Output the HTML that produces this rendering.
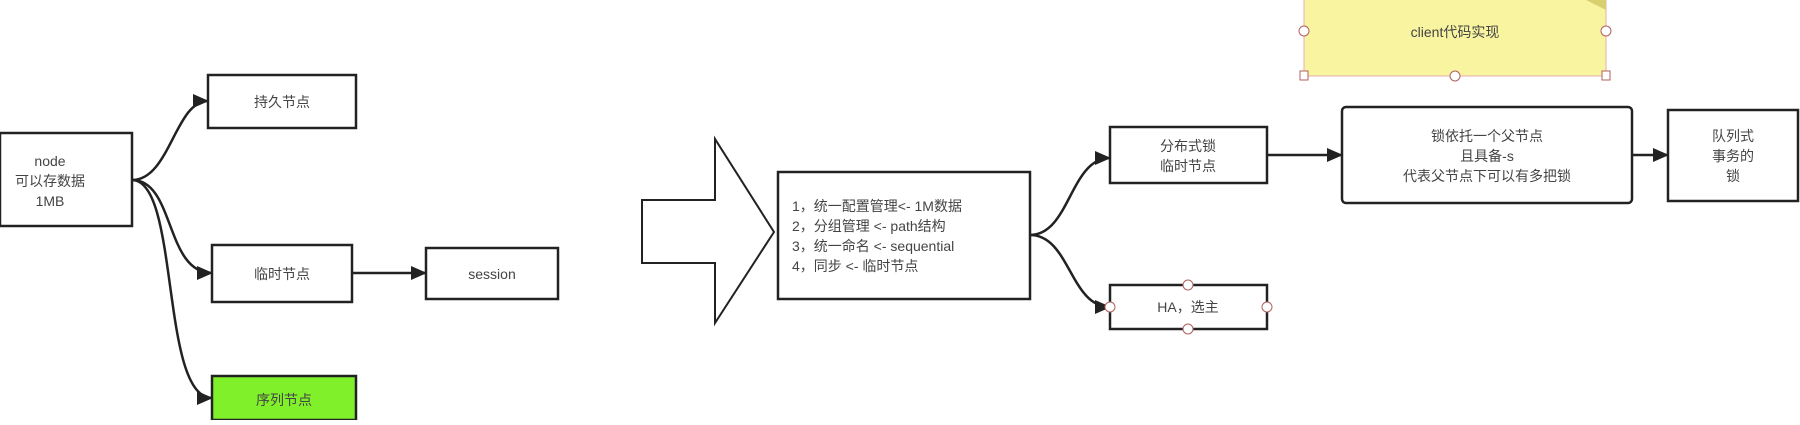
<!DOCTYPE html>
<html><head><meta charset="utf-8"><style>
body{margin:0;width:1800px;height:420px;background:#fff;overflow:hidden;font-family:"Liberation Sans","Noto Sans CJK SC",sans-serif;}
</style></head><body>
<svg width="1800" height="420" xmlns="http://www.w3.org/2000/svg" font-family="Liberation Sans, Noto Sans CJK SC, sans-serif" font-size="14" fill="#444">
<defs><marker id="a" markerWidth="16" markerHeight="14" refX="15" refY="7" orient="auto" markerUnits="userSpaceOnUse"><path d="M0,0 L16,7 L0,14 z" fill="#222"/></marker></defs>
<g fill="none" stroke="#222" stroke-width="2.5">
<rect x="0" y="133" width="132" height="93" fill="#fff"/>
<rect x="208" y="75" width="148" height="53" fill="#fff"/>
<rect x="212" y="245" width="140" height="57" fill="#fff"/>
<rect x="426" y="248" width="132" height="51" fill="#fff"/>
<rect x="212" y="376" width="144" height="44" fill="#80f02a"/>
<rect x="778" y="172" width="252" height="127" fill="#fff"/>
<rect x="1110" y="127" width="157" height="56" fill="#fff"/>
<rect x="1110" y="285" width="157" height="44" fill="#fff"/>
<rect x="1342" y="107" width="290" height="96" rx="4" fill="#fff"/>
<rect x="1668" y="110" width="130" height="91" fill="#fff"/>
<path d="M132,180 C170,180 175,101 208,101" marker-end="url(#a)"/>
<path d="M132,180 C175,180 165,273 212,273" marker-end="url(#a)"/>
<path d="M132,180 C180,180 160,398 212,398" marker-end="url(#a)"/>
<path d="M352,273 L426,273" marker-end="url(#a)"/>
<path d="M1030,235 C1070,235 1070,158 1110,158" marker-end="url(#a)"/>
<path d="M1030,235 C1070,235 1070,307 1110,307" marker-end="url(#a)"/>
<path d="M1267,155 L1342,155" marker-end="url(#a)"/>
<path d="M1632,155 L1668,155" marker-end="url(#a)"/>
</g>
<path d="M642,200 L715,200 L715,139 L774,232 L715,323 L715,263 L642,263 z" fill="#fff" stroke="#222" stroke-width="2"/>
<rect x="1304" y="-2" width="302" height="78" fill="#f8f4a0" stroke="#e8b0b0" stroke-width="1"/>
<path d="M1586,0 L1606,0 L1606,10 z" fill="#d8d070"/>
<g fill="#fff" stroke="#b06060" stroke-width="1">
<circle cx="1304" cy="31" r="5"/><circle cx="1606" cy="31" r="5"/><circle cx="1455" cy="76" r="5"/>
<rect x="1300" y="71" width="8" height="9"/><rect x="1602" y="71" width="8" height="9"/>
<circle cx="1110" cy="307" r="5"/><circle cx="1267" cy="307" r="5"/><circle cx="1188" cy="285" r="5"/><circle cx="1188" cy="329" r="5"/>
</g>
<g text-anchor="middle">
<text x="50" y="166">node</text><text x="50" y="186">可以存数据</text><text x="50" y="206">1MB</text>
<text x="282" y="107">持久节点</text>
<text x="282" y="279">临时节点</text>
<text x="492" y="279">session</text>
<text x="284" y="405">序列节点</text>
<text x="1188" y="151">分布式锁</text><text x="1188" y="171">临时节点</text>
<text x="1188" y="312">HA，选主</text>
<text x="1487" y="141">锁依托一个父节点</text><text x="1487" y="161">且具备-s</text><text x="1487" y="181">代表父节点下可以有多把锁</text>
<text x="1733" y="141">队列式</text><text x="1733" y="161">事务的</text><text x="1733" y="181">锁</text>
<text x="1455" y="37">client代码实现</text>
</g>
<text x="792" y="211">1，统一配置管理&lt;-  1M数据</text>
<text x="792" y="231">2，分组管理 &lt;- path结构</text>
<text x="792" y="251">3，统一命名 &lt;- sequential</text>
<text x="792" y="271">4，同步 &lt;- 临时节点</text>
</svg>
</body></html>
